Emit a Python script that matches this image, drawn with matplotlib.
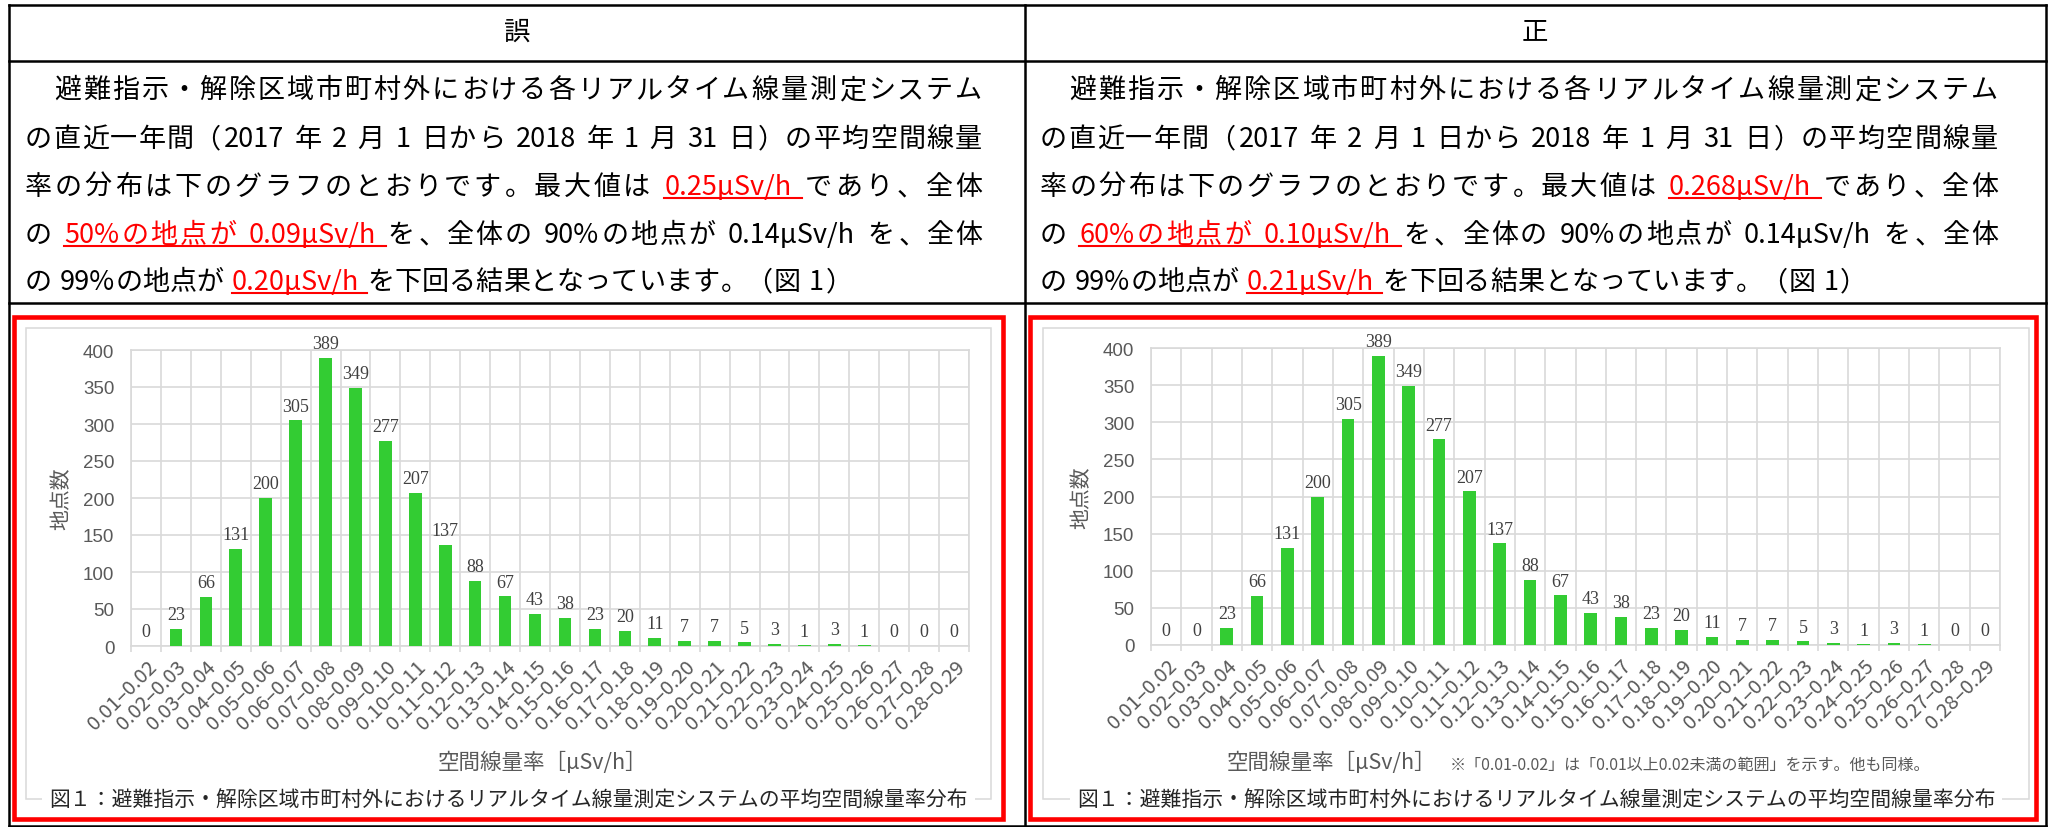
import numpy as np
import matplotlib
matplotlib.use("Agg")
import matplotlib.pyplot as plt
from matplotlib.lines import Line2D
from matplotlib.patches import Rectangle

W, H = 2051, 828
JP = ['Noto Sans CJK JP', 'DejaVu Sans']

# bins of the air dose rate (μSv/h)
bins = ["0.01–0.02", "0.02–0.03", "0.03–0.04", "0.04–0.05", "0.05–0.06",
        "0.06–0.07", "0.07–0.08", "0.08–0.09", "0.09–0.10", "0.10–0.11",
        "0.11–0.12", "0.12–0.13", "0.13–0.14", "0.14–0.15", "0.15–0.16",
        "0.16–0.17", "0.17–0.18", "0.18–0.19", "0.19–0.20", "0.20–0.21",
        "0.21–0.22", "0.22–0.23", "0.23–0.24", "0.24–0.25", "0.25–0.26",
        "0.26–0.27", "0.27–0.28", "0.28–0.29"]

# number of points per bin: wrong (left) and corrected (right) version
counts_wrong = [0, 23, 66, 131, 200, 305, 389, 349, 277, 207, 137, 88, 67, 43,
                38, 23, 20, 11, 7, 7, 5, 3, 1, 3, 1, 0, 0, 0]
counts_right = [0, 0, 23, 66, 131, 200, 305, 389, 349, 277, 207, 137, 88, 67,
                43, 38, 23, 20, 11, 7, 7, 5, 3, 1, 3, 1, 0, 0]

headers = ["誤", "正"]

# paragraph lines as (text, red?) pieces
text_wrong = [
    [("　避難指示・解除区域市町村外における各リアルタイム線量測定システム", False)],
    [("の直近一年間（2017 年 2 月 1 日から 2018 年 1 月 31 日）の平均空間線量", False)],
    [("率の分布は下のグラフのとおりです。最大値は ", False), ("0.25μSv/h ", True), ("であり、全体", False)],
    [("の ", False), ("50%の地点が 0.09μSv/h ", True), ("を、全体の 90%の地点が 0.14μSv/h を、全体", False)],
    [("の 99%の地点が ", False), ("0.20μSv/h ", True), ("を下回る結果となっています。（図 1）", False)],
]
text_right = [
    [("　避難指示・解除区域市町村外における各リアルタイム線量測定システム", False)],
    [("の直近一年間（2017 年 2 月 1 日から 2018 年 1 月 31 日）の平均空間線量", False)],
    [("率の分布は下のグラフのとおりです。最大値は ", False), ("0.268μSv/h ", True), ("であり、全体", False)],
    [("の ", False), ("60%の地点が 0.10μSv/h ", True), ("を、全体の 90%の地点が 0.14μSv/h を、全体", False)],
    [("の 99%の地点が ", False), ("0.21μSv/h ", True), ("を下回る結果となっています。（図 1）", False)],
]

caption = "図１：避難指示・解除区域市町村外におけるリアルタイム線量測定システムの平均空間線量率分布"
xlabel = "空間線量率［μSv/h］"
note = "※「0.01-0.02」は「0.01以上0.02未満の範囲」を示す。他も同様。"
ylabel = "地点数"

fig = plt.figure(figsize=(W / 100, H / 100), dpi=100)
fig.patch.set_facecolor('white')
renderer = fig.canvas.get_renderer()


def fx(x):
    return x / W


def fy(y):
    return 1 - y / H


def line(xs, ys, color='black', lw=1.8):
    fig.add_artist(Line2D([fx(x) for x in xs], [fy(y) for y in ys],
                          color=color, lw=lw, solid_capstyle='projecting'))


def box(l, r, t, b, color, lw):
    fig.add_artist(Rectangle((fx(l), fy(b)), (r - l) / W, (b - t) / H,
                             fill=False, edgecolor=color, lw=lw,
                             transform=fig.transFigure))


# table grid
line([9, 2046], [6, 6])
line([9, 2046], [62, 62])
line([9, 2046], [304, 304])
line([9, 2046], [827, 827])
line([9, 9], [6, 827])
line([1025, 1025], [6, 827])
line([2046, 2046], [6, 827])

fig.text(fx(517), fy(32), headers[0], ha='center', va='center', fontsize=19, family=JP)
fig.text(fx(1535), fy(32), headers[1], ha='center', va='center', fontsize=19, family=JP)

# --- justified paragraph ---
BODY = 19.5
EM = BODY * 100 / 72
BASELINES = [98, 147, 195, 243, 290]


def split_tokens(parts):
    toks = []
    for s, red in parts:
        run = ''
        for ch in s:
            if ch == ' ' or ord(ch) >= 0x2E80:
                if run:
                    toks.append(('run', run, red))
                    run = ''
                toks.append(('sp' if ch == ' ' else 'wide', ch, red))
            else:
                run += ch
        if run:
            toks.append(('run', run, red))
    return toks


def write_para(lines, x0, x1):
    for li, parts in enumerate(lines):
        y = fy(BASELINES[li])
        items = []
        for kind, s, red in split_tokens(parts):
            if kind == 'sp':
                items.append((None, 0.3 * EM, s, red, kind))
                continue
            t = fig.text(0, y, s, fontsize=BODY, family=JP, va='baseline',
                         color='#ff0000' if red else 'black')
            w = EM if kind == 'wide' else t.get_window_extent(renderer).width
            items.append((t, w, s, red, kind))
        total = sum(it[1] for it in items)
        last = li == len(lines) - 1
        extra = 0 if last else (x1 - x0 - total) / (len(items) - 1)
        x = x0
        spans = []
        for t, w, s, red, kind in items:
            if t is not None:
                if s in '、。）':
                    t.set_ha('left')
                    t.set_x(fx(x + 0.06 * EM))
                elif s == '（':
                    t.set_ha('right')
                    t.set_x(fx(x + w - 0.06 * EM))
                elif kind == 'wide':
                    t.set_ha('center')
                    t.set_x(fx(x + w / 2))
                else:
                    t.set_ha('left')
                    t.set_x(fx(x))
            if red:
                spans.append((x, x + w))
            x += w + extra
        if spans:
            uy = BASELINES[li] + 4
            line([spans[0][0], spans[-1][1]], [uy, uy], color='#ff0000', lw=1.5)


write_para(text_wrong, 25, 982)
write_para(text_right, 1040, 1998)


# --- charts ---
def draw_chart(counts, plot, frame, redbox, ylab_x, xlab_pos, with_note):
    px0, px1, pyt, pyb = plot
    ax = fig.add_axes([px0 / W, 1 - pyb / H, (px1 - px0) / W, (pyb - pyt) / H])
    n = len(counts)
    pos = np.arange(n)
    ax.bar(pos, counts, width=0.42, color='#33cc33', zorder=3)
    ax.set_xlim(-0.5, n - 0.5)
    ax.set_ylim(0, 400)
    ax.set_yticks(range(0, 401, 50))
    ax.set_xticks(pos)
    ax.set_xticklabels(bins, rotation=45, ha='right', va='top', rotation_mode='anchor',
                       fontsize=14.5, color='#595959', family=JP)
    ax.set_xticks(np.arange(-0.5, n, 1), minor=True)
    ax.grid(True, which='minor', axis='x', color='#d9d9d9', lw=1.2)
    ax.grid(True, which='major', axis='y', color='#d9d9d9', lw=1.2)
    ax.tick_params(axis='x', which='major', length=0, pad=7)
    ax.tick_params(axis='x', which='minor', length=4, color='#d9d9d9', width=1.2)
    ax.tick_params(axis='y', length=0, pad=12, labelsize=13.5, labelcolor='#595959')
    for lbl in ax.get_yticklabels():
        lbl.set_family('Liberation Sans')
    for sp in ax.spines.values():
        sp.set_color('#d9d9d9')
        sp.set_linewidth(1.2)
    ax.set_axisbelow(True)
    for i, v in enumerate(counts):
        ax.annotate(str(v), (i, v), xytext=(0, 7), textcoords='offset points',
                    ha='center', va='baseline', fontsize=13, family='Liberation Serif',
                    color='#404040')

    l, r, t, b = frame
    box(l, r, t, b, '#d9d9d9', 1.1)
    box(*redbox, '#ff0000', 3.3)

    fig.text(fx(ylab_x), fy((pyt + pyb) / 2), ylabel, rotation=90, ha='center', va='center',
             fontsize=15, family=JP, color='#595959')

    xl = fig.text(fx(xlab_pos[0]), fy(xlab_pos[1]), xlabel, ha='left' if with_note else 'center',
                  va='center', fontsize=15.5, family=JP, color='#595959')
    if with_note:
        ext = xl.get_window_extent(renderer)
        fig.text(fx(ext.x1 + 13), fy(xlab_pos[1] + 2), note, ha='left', va='center',
                 fontsize=11.5, family=JP, color='#595959')

    fig.text(fx((l + r) / 2), fy(b), caption, ha='center', va='center', fontsize=15,
             family=JP, color='#262626',
             bbox=dict(facecolor='white', edgecolor='none', pad=5))


draw_chart(counts_wrong, (131, 969, 351, 647), (26, 991, 329, 800), (14, 1003, 318, 820),
           62, (543, 763), False)
draw_chart(counts_right, (1151, 2000, 349, 646), (1043, 2029, 329, 800), (1030, 2036, 318, 820),
           1082, (1227, 763), True)

fig.savefig('out.png', dpi=100, facecolor='white')
